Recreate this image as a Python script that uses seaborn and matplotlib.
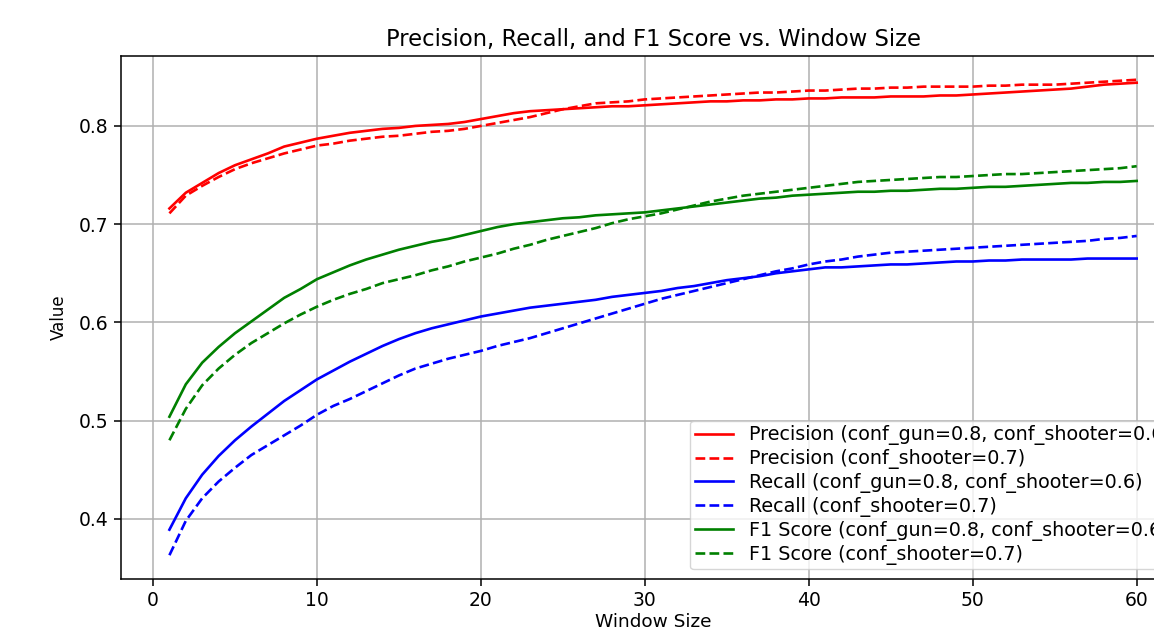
import matplotlib
matplotlib.use("Agg")
import matplotlib.pyplot as plt
import seaborn as sns
import numpy as np
import pandas as pd

window_size = list(range(1, 61))

precision_a = [0.716, 0.732, 0.742, 0.752, 0.760, 0.766, 0.772, 0.779, 0.783, 0.787,
               0.790, 0.793, 0.795, 0.797, 0.798, 0.800, 0.801, 0.802, 0.804, 0.807,
               0.810, 0.813, 0.815, 0.816, 0.817, 0.818, 0.819, 0.820, 0.820, 0.821,
               0.822, 0.823, 0.824, 0.825, 0.825, 0.826, 0.826, 0.827, 0.827, 0.828,
               0.828, 0.829, 0.829, 0.829, 0.830, 0.830, 0.830, 0.831, 0.831, 0.832,
               0.833, 0.834, 0.835, 0.836, 0.837, 0.838, 0.840, 0.842, 0.843, 0.844]
precision_b = [0.711, 0.729, 0.739, 0.748, 0.756, 0.762, 0.767, 0.772, 0.776, 0.780,
               0.782, 0.785, 0.787, 0.789, 0.790, 0.792, 0.794, 0.795, 0.797, 0.800,
               0.803, 0.806, 0.809, 0.813, 0.817, 0.820, 0.823, 0.824, 0.825, 0.827,
               0.828, 0.829, 0.830, 0.831, 0.832, 0.833, 0.834, 0.834, 0.835, 0.836,
               0.836, 0.837, 0.838, 0.838, 0.839, 0.839, 0.840, 0.840, 0.840, 0.840,
               0.841, 0.841, 0.842, 0.842, 0.842, 0.843, 0.844, 0.845, 0.846, 0.847]
recall_a = [0.389, 0.421, 0.445, 0.464, 0.480, 0.494, 0.507, 0.520, 0.531, 0.542,
            0.551, 0.560, 0.568, 0.576, 0.583, 0.589, 0.594, 0.598, 0.602, 0.606,
            0.609, 0.612, 0.615, 0.617, 0.619, 0.621, 0.623, 0.626, 0.628, 0.630,
            0.632, 0.635, 0.637, 0.640, 0.643, 0.645, 0.647, 0.650, 0.652, 0.654,
            0.656, 0.656, 0.657, 0.658, 0.659, 0.659, 0.660, 0.661, 0.662, 0.662,
            0.663, 0.663, 0.664, 0.664, 0.664, 0.664, 0.665, 0.665, 0.665, 0.665]
recall_b = [0.363, 0.398, 0.421, 0.438, 0.452, 0.465, 0.475, 0.485, 0.495, 0.506,
            0.515, 0.522, 0.530, 0.538, 0.546, 0.553, 0.558, 0.563, 0.567, 0.571,
            0.576, 0.580, 0.584, 0.589, 0.594, 0.599, 0.604, 0.609, 0.614, 0.619,
            0.624, 0.628, 0.632, 0.636, 0.640, 0.644, 0.648, 0.652, 0.655, 0.659,
            0.662, 0.664, 0.667, 0.669, 0.671, 0.672, 0.673, 0.674, 0.675, 0.676,
            0.677, 0.678, 0.679, 0.680, 0.681, 0.682, 0.683, 0.685, 0.686, 0.688]
f1_a = [0.504, 0.537, 0.559, 0.575, 0.589, 0.601, 0.613, 0.625, 0.634, 0.644,
        0.651, 0.658, 0.664, 0.669, 0.674, 0.678, 0.682, 0.685, 0.689, 0.693,
        0.697, 0.700, 0.702, 0.704, 0.706, 0.707, 0.709, 0.710, 0.711, 0.712,
        0.714, 0.716, 0.718, 0.720, 0.722, 0.724, 0.726, 0.727, 0.729, 0.730,
        0.731, 0.732, 0.733, 0.733, 0.734, 0.734, 0.735, 0.736, 0.736, 0.737,
        0.738, 0.738, 0.739, 0.740, 0.741, 0.742, 0.742, 0.743, 0.743, 0.744]
f1_b = [0.480, 0.512, 0.536, 0.553, 0.567, 0.579, 0.589, 0.599, 0.608, 0.616,
        0.623, 0.629, 0.634, 0.640, 0.644, 0.648, 0.653, 0.657, 0.662, 0.666,
        0.670, 0.675, 0.679, 0.684, 0.688, 0.692, 0.696, 0.701, 0.705, 0.708,
        0.711, 0.715, 0.719, 0.723, 0.726, 0.729, 0.731, 0.733, 0.735, 0.737,
        0.739, 0.741, 0.743, 0.744, 0.745, 0.746, 0.747, 0.748, 0.748, 0.749,
        0.750, 0.751, 0.751, 0.752, 0.753, 0.754, 0.755, 0.756, 0.757, 0.759]

labels = ["Precision (conf_gun=0.8, conf_shooter=0.6)",
          "Precision (conf_shooter=0.7)",
          "Recall (conf_gun=0.8, conf_shooter=0.6)",
          "Recall (conf_shooter=0.7)",
          "F1 Score (conf_gun=0.8, conf_shooter=0.6)",
          "F1 Score (conf_shooter=0.7)"]
series = [precision_a, precision_b, recall_a, recall_b, f1_a, f1_b]
colors = ["red", "red", "blue", "blue", "green", "green"]
styles = ["-", "--", "-", "--", "-", "--"]

plt.rcParams["font.family"] = ["DejaVu Sans"]
fs = 13.5

fig = plt.figure(figsize=(11.54, 6.29), dpi=100)
ax = fig.add_axes([0.1049, 0.0795, 0.922, 0.8315])

for vals, lab, c, ls in zip(series, labels, colors, styles):
    sns.lineplot(x=window_size, y=vals, color=c, linestyle=ls, label=lab,
                 linewidth=1.9, ax=ax)

ax.set_title("Precision, Recall, and F1 Score vs. Window Size", fontsize=16.3, pad=7)
ax.set_xlabel("Window Size", fontsize=13.3, labelpad=2)
ax.set_ylabel("Value", fontsize=12, labelpad=8)
ax.set_xticks([0, 10, 20, 30, 40, 50, 60])
ax.set_yticks([0.4, 0.5, 0.6, 0.7, 0.8])
ax.tick_params(labelsize=fs, length=5, width=1.1, pad=4)
ax.grid(True, color="#b0b0b0", linewidth=1.1)
for sp in ax.spines.values():
    sp.set_linewidth(1.1)
ax.legend(loc="lower right", fontsize=13.8, labelspacing=0.2,
          borderpad=0.25, handlelength=2.0, handletextpad=0.8, borderaxespad=0.5)

fig.savefig("out.png", dpi=100)
